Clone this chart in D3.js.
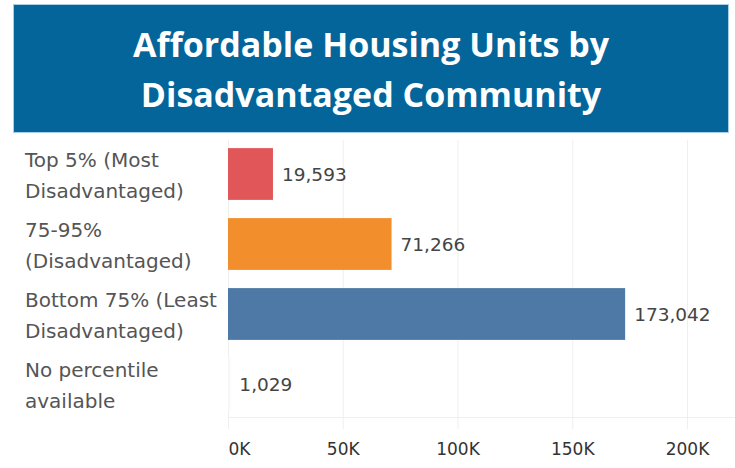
<!DOCTYPE html>
<html>
<head>
<meta charset="utf-8">
<script src="https://cdn.jsdelivr.net/npm/d3@7"></script>
<style>
  body { margin: 0; background: #fff; }
  svg { display: block; }
</style>
</head>
<body>
<script>
var width = 735, height = 468;

// data
const titleLines = ["Affordable Housing Units by", "Disadvantaged Community"];
const categories = [
  ["Top 5% (Most", "Disadvantaged)"],
  ["75-95%", "(Disadvantaged)"],
  ["Bottom 75% (Least", "Disadvantaged)"],
  ["No percentile", "available"]
];
const units = [19593, 71266, 173042, 1029];
const barColors = ["#e15759", "#f28e2b", "#4e79a7", "#f7f7f7"];
const ticks = [0, 50000, 100000, 150000, 200000];

var svg = d3.select("body").append("svg")
  .attr("width", width)
  .attr("height", height);

// title banner
svg.append("rect")
  .attr("x", 13.5).attr("y", 4.5)
  .attr("width", 715).attr("height", 128)
  .attr("fill", "#04659b")
  .attr("stroke", "#a9cfe6")
  .attr("stroke-width", 1);

svg.append("g").selectAll("text")
  .data(titleLines)
  .enter().append("text")
    .attr("x", 371)
    .attr("y", function(d, i) { return 57 + i * 50; })
    .attr("text-anchor", "middle")
    .attr("fill", "#fff")
    .attr("font-family", "'Open Sans', sans-serif")
    .attr("font-weight", "bold")
    .attr("font-size", 34)
    .text(function(d) { return d; });

var x = d3.scaleLinear()
  .domain([0, 200000])
  .range([228, 687]);

var y = d3.scaleBand()
  .domain(d3.range(categories.length))
  .range([139, 419])
  .paddingInner(0.26)
  .paddingOuter(0.13);

// grid
svg.append("g").selectAll("line")
  .data(ticks)
  .enter().append("line")
    .attr("x1", function(d) { return x(d) + 0.5; })
    .attr("x2", function(d) { return x(d) + 0.5; })
    .attr("y1", 140)
    .attr("y2", 429)
    .attr("stroke", "#efefef")
    .attr("stroke-width", 1);

svg.append("line")
  .attr("x1", x(0)).attr("x2", width)
  .attr("y1", 417.5).attr("y2", 417.5)
  .attr("stroke", "#efefef");

// axis labels
var axis = d3.axisBottom(x)
  .tickValues(ticks)
  .tickSize(0)
  .tickPadding(0)
  .tickFormat(function(d) { return d / 1000 + "K"; });

var gx = svg.append("g")
  .attr("transform", "translate(0,443)")
  .call(axis);
gx.select(".domain").remove();
gx.selectAll("text")
  .attr("fill", "#333")
  .attr("font-family", "'DejaVu Sans', sans-serif")
  .attr("font-size", 17)
  .attr("dy", "0.71em");
gx.select(".tick text").attr("text-anchor", "start");

// bars
svg.append("g").selectAll("rect")
  .data(units)
  .enter().append("rect")
    .attr("x", x(0))
    .attr("y", function(d, i) { return y(i); })
    .attr("width", function(d) { return x(d) - x(0); })
    .attr("height", y.bandwidth())
    .attr("fill", function(d, i) { return barColors[i]; });

// value labels
svg.append("g").selectAll("text")
  .data(units)
  .enter().append("text")
    .attr("x", function(d) { return x(d) + 9; })
    .attr("y", function(d, i) { return y(i) + y.bandwidth() / 2; })
    .attr("dy", "0.36em")
    .attr("fill", "#444")
    .attr("font-family", "'DejaVu Sans', sans-serif")
    .attr("font-size", 18.5)
    .text(d3.format(","));

// category labels
var cat = svg.append("g").selectAll("text")
  .data(categories)
  .enter().append("text")
    .attr("fill", "#555")
    .attr("font-family", "'DejaVu Sans', sans-serif")
    .attr("font-size", 20);

cat.selectAll("tspan")
  .data(function(d, i) { return d.map(function(t) { return {t: t, i: i}; }); })
  .enter().append("tspan")
    .attr("x", 25)
    .attr("y", function(d, j) { return y(d.i) + y.bandwidth() / 2 - 7 + j * 31; })
    .text(function(d) { return d.t; });
</script>
</body>
</html>
